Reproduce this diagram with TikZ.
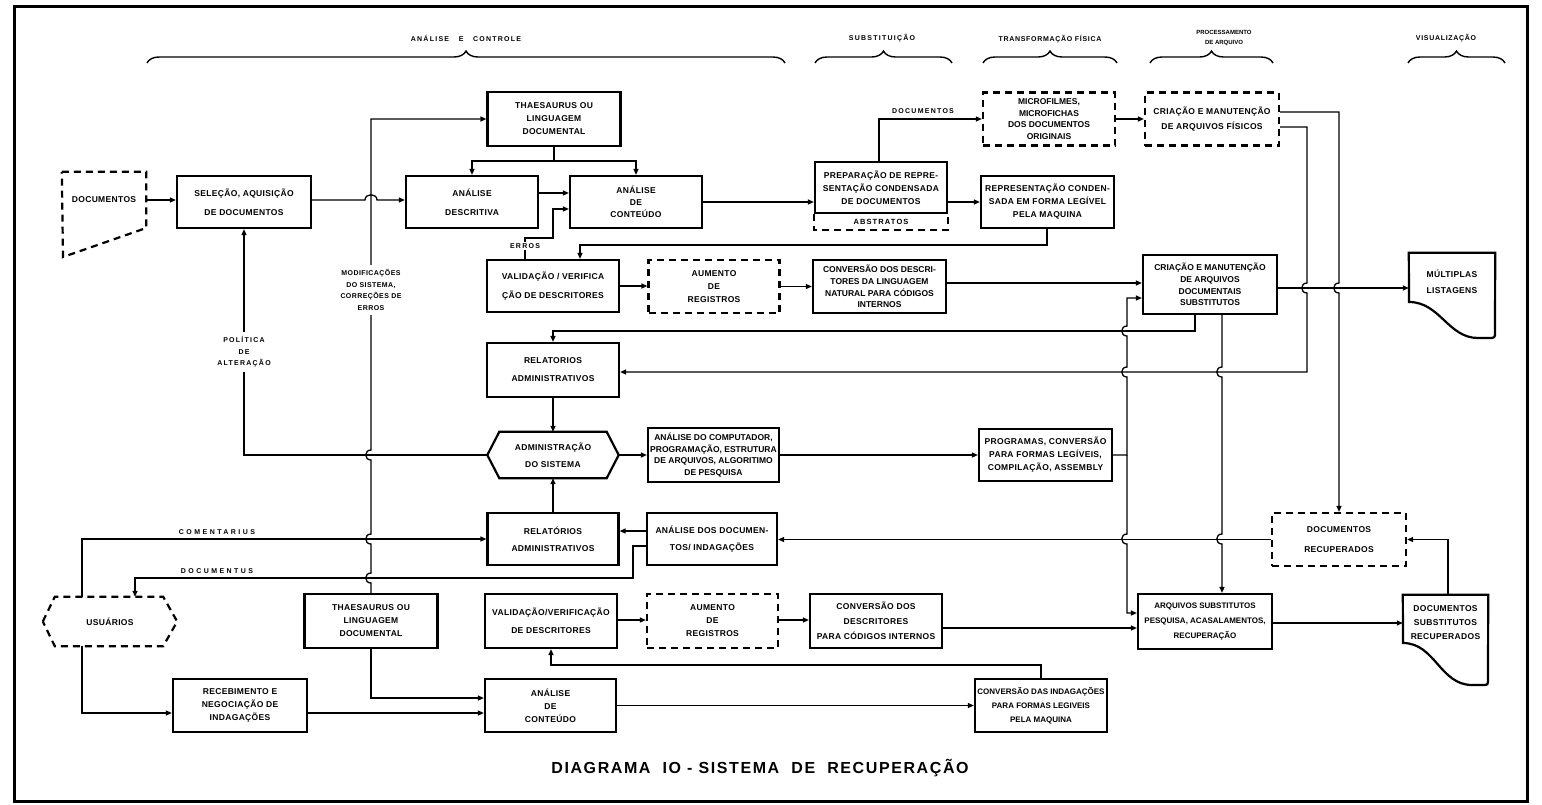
\documentclass[tikz,border=0pt]{standalone}
\usepackage{fontspec}
\setmainfont{Liberation Sans}
\usetikzlibrary{arrows.meta,decorations.pathreplacing}

% line hops on vertical connectors (bump to the left)
\newcommand\vhopup[2]{-- (#1,#2+5) .. controls (#1-7,#2+5) and (#1-7,#2-5) .. (#1,#2-5)}
\newcommand\vhopdn[2]{-- (#1,#2-5) .. controls (#1-7,#2-5) and (#1-7,#2+5) .. (#1,#2+5)}

\begin{document}
\begin{tikzpicture}[x=1pt,y=-1pt,
  boxfont/.style={font=\bfseries\fontsize{8.5}{13}\selectfont\addfontfeatures{LetterSpace=4}},
  box/.style={draw, line width=2.2pt, minimum width=132pt, minimum height=53pt,
    inner sep=0pt, align=center, boxfont},
  tight/.style={font=\bfseries\fontsize{8.5}{11.7}\selectfont},
  narrow/.style={font=\bfseries\fontsize{8}{13}\selectfont},
  dbox/.style={box, dash pattern=on 7pt off 5pt},
  dsh/.style={line width=2.2pt, dash pattern=on 7pt off 5pt},
  solidline/.style={line width=2.2pt},
  txt/.style={inner sep=0pt, align=center, boxfont},
  lab/.style={inner sep=1pt, align=center,
    font=\bfseries\fontsize{7}{11.5}\selectfont\addfontfeatures{LetterSpace=18}},
  widelab/.style={lab, font=\bfseries\fontsize{7}{11.5}\selectfont\addfontfeatures{LetterSpace=35}},
  conn/.style={line width=1.3pt},
  arr/.style={conn, -{Triangle[length=6pt,width=5pt]}},
  brc/.style={line width=1.4pt, decorate, decoration={brace, amplitude=12pt}},
]
\useasboundingbox (0,0) rectangle (1542,804);
\fill[white] (0,0) rectangle (1542,804);
\draw[line width=3pt] (14,6) rectangle (1527,801);

% ---------- phase braces ----------
\draw[brc] (147,63) -- (785,63);
\draw[brc] (815,63) -- (952,63);
\draw[brc] (983,63) -- (1117,63);
\draw[brc] (1150,63) -- (1273,63);
\draw[brc] (1408,63) -- (1505,63);
\node[lab] (phA) at (466,38) {ANÁLISE\ \ \ E\ \ \ CONTROLE};
\node[lab] (phB) at (882,38) {SUBSTITUIÇÃO};
\node[lab, font=\bfseries\fontsize{7}{11.5}\selectfont\addfontfeatures{LetterSpace=10}] (phC) at (1050,39) {TRANSFORMAÇÃO FÍSICA};
\node[lab, font=\bfseries\fontsize{6}{10}\selectfont] (phD) at (1224,38) {PROCESSAMENTO\\DE ARQUIVO};
\node[lab, font=\bfseries\fontsize{7}{11.5}\selectfont\addfontfeatures{LetterSpace=10}] (phE) at (1446,38) {VISUALIZAÇÃO};

% ---------- nodes ----------
\node[txt, minimum width=84pt, minimum height=56pt] (docA) at (104,200) {DOCUMENTOS};
\draw[dsh] (docA.north west) -- (docA.north east) -- (docA.east |- 0,228) -- (63,257) -- cycle;

\node[box, minimum width=134pt, minimum height=52pt] (sel) at (244,202) {SELEÇÃO, AQUISIÇÃO\\[6pt]DE DOCUMENTOS};
\node[box, minimum width=133pt, minimum height=54pt] (thesA) at (554,119) {THAESAURUS OU\\LINGUAGEM\\DOCUMENTAL};
\node[box, minimum height=52pt] (descr) at (472,202) {ANÁLISE\\[6pt]DESCRITIVA};
\node[box, minimum height=52pt] (contA) at (636,202) {ANÁLISE\\[-1pt]DE\\[-1pt]CONTEÚDO};
\node[box, minimum height=51pt] (prep) at (881,187.5) {PREPARAÇÃO DE REPRE-\\SENTAÇÃO CONDENSADA\\DE DOCUMENTOS};
\draw[dsh] (prep.south west) -- ++(0,16) -| (prep.south east);
\node[txt, font=\bfseries\fontsize{7.5}{9}\selectfont\addfontfeatures{LetterSpace=15}] (abst) at (881,221.5) {ABSTRATOS};
\node[dbox, tight] (micro) at (1049,119) {MICROFILMES,\\MICROFICHAS\\DOS DOCUMENTOS\\ORIGINAIS};
\node[box, minimum width=133pt, minimum height=52pt] (repr) at (1047.5,202) {REPRESENTAÇÃO CONDEN-\\SADA EM FORMA LEGÍVEL\\PELA MAQUINA};
\node[dbox, minimum width=134pt] (criaF) at (1212,119) {CRIAÇÃO E MANUTENÇÃO\\[2pt]DE ARQUIVOS FÍSICOS};

\node[box, minimum height=52pt] (valA) at (553,286) {VALIDAÇÃO / VERIFICA\\[6pt]ÇÃO DE DESCRITORES};
\node[dbox, minimum width=131pt] (aumA) at (714,286.5) {AUMENTO\\DE\\REGISTROS};
\node[box, tight, minimum width=133pt] (convA) at (879.5,286.5) {CONVERSÃO DOS DESCRI-\\TORES DA LINGUAGEM\\NATURAL PARA CÓDIGOS\\INTERNOS};
\node[box, tight, minimum width=134pt, minimum height=59pt] (criaS) at (1210,284.5) {CRIAÇÃO E MANUTENÇÃO\\DE ARQUIVOS\\DOCUMENTAIS\\SUBSTITUTOS};
\node[txt, minimum width=86pt, minimum height=58pt] (mult) at (1452,282) {MÚLTIPLAS\\[3pt]LISTAGENS};
\draw[solidline] (mult.north west) -- (mult.north east) -- (1495,332) .. controls (1495,338) .. (1488,338)
  -- (1478,338) .. controls (1448,338) and (1440,302) .. (1409,302) -- cycle;

\node[box, minimum height=54pt] (relA) at (553,370) {RELATORIOS\\[5pt]ADMINISTRATIVOS};
\node[txt, minimum width=131pt, minimum height=46pt] (admin) at (553,455) {ADMINISTRAÇÃO\\[4pt]DO SISTEMA};
\draw[solidline] (admin.west) -- ([xshift=12pt]admin.north west) -- ([xshift=-12pt]admin.north east)
  -- (admin.east) -- ([xshift=-12pt]admin.south east) -- ([xshift=12pt]admin.south west) -- cycle;
\node[box, tight, minimum width=131pt, minimum height=54pt] (compA) at (713.5,455) {ANÁLISE DO COMPUTADOR,\\PROGRAMAÇÃO, ESTRUTURA\\DE ARQUIVOS, ALGORITIMO\\DE PESQUISA};
\node[box, minimum width=133pt, minimum height=52pt] (prog) at (1045.5,455) {PROGRAMAS, CONVERSÃO\\PARA FORMAS LEGÍVEIS,\\COMPILAÇÃO, ASSEMBLY};

\node[box, minimum width=131pt, minimum height=52pt] (relB) at (553,539) {RELATÓRIOS\\[4pt]ADMINISTRATIVOS};
\node[box, minimum width=130pt, minimum height=52pt] (anDoc) at (712,539) {ANÁLISE DOS DOCUMEN-\\[4pt]TOS/ INDAGAÇÕES};
\node[dbox, minimum width=134pt] (docRec) at (1339,539.5) {DOCUMENTOS\\[7pt]RECUPERADOS};

\node[txt, minimum width=134pt, minimum height=49pt] (usu) at (110,621.5) {USUÁRIOS};
\draw[dsh] (usu.west) -- ([xshift=12pt]usu.north west) -- ([xshift=-14pt]usu.north east)
  -- (usu.east) -- ([xshift=-14pt]usu.south east) -- ([xshift=12pt]usu.south west) -- cycle;
\node[box, minimum width=133pt, minimum height=54pt] (thesB) at (371,621) {THAESAURUS OU\\LINGUAGEM\\DOCUMENTAL};
\node[box, minimum height=54pt] (valB) at (551,621) {VALIDAÇÃO/VERIFICAÇÃO\\[5pt]DE DESCRITORES};
\node[dbox, minimum width=131pt, minimum height=54pt] (aumB) at (712.5,621) {AUMENTO\\DE\\REGISTROS};
\node[box, minimum height=54pt] (convB) at (876,621) {CONVERSÃO DOS\\[2pt]DESCRITORES\\[2pt]PARA CÓDIGOS INTERNOS};
\node[box, narrow, minimum width=134pt, minimum height=55pt] (arqS) at (1205,621.5) {ARQUIVOS SUBSTITUTOS\\[2pt]PESQUISA, ACASALAMENTOS,\\[2pt]RECUPERAÇÃO};
\node[txt, minimum width=85pt, minimum height=56pt] (docSR) at (1445.5,623) {DOCUMENTOS\\[1pt]SUBSTITUTOS\\[1pt]RECUPERADOS};
\draw[solidline] (docSR.north west) -- (docSR.north east) -- (1488,679) .. controls (1488,685) .. (1482,685)
  -- (1472,685) .. controls (1440,685) and (1435,643) .. (1403,643) -- cycle;

\node[box, minimum width=134pt] (receb) at (240,705.5) {RECEBIMENTO E\\NEGOCIAÇÃO DE\\INDAGAÇÕES};
\node[box, minimum width=131pt] (contB) at (550.5,705.5) {ANÁLISE\\DE\\CONTEÚDO};
\node[box, narrow] (convI) at (1041,705.5) {CONVERSÃO DAS INDAGAÇÕES\\[1pt]PARA FORMAS LEGIVEIS\\[1pt]PELA MAQUINA};

% ---------- connectors: upper chain ----------
\draw[arr] (docA.east) -- (sel.west |- docA.east);
\draw[arr] (sel.east |- 0,200) -- (365,200) .. controls (365,193) and (377,193) .. (377,200) -- (descr.west |- 0,200);
\draw[arr] (thesA.south) -- ++(0,14) -| (descr.north);
\draw[arr] (thesA.south) -- ++(0,14) -| (contA.north);
\draw[arr] (descr.east |- 0,193) -- (contA.west |- 0,193);
\draw[arr] (valA.north -| 525,0) -- (525,238) -| (553,209) -- (contA.west |- 0,209);
\draw[arr] (contA.east) -- (prep.west |- contA.east);
\draw[arr] (prep.north -| 879,0) |- (micro.west);
\draw[arr] (micro.east) -- (criaF.west);
\draw[arr] (prep.east |- repr.west) -- (repr.west);
\draw[arr] (repr.south -| 1047,0) |- (580,245) -- (valA.north -| 580,0);

\draw[arr] (valA.east) -- (aumA.west |- valA.east);
\draw[arr] (aumA.east) -- (convA.west |- aumA.east);
\draw[arr] (convA.east |- 0,283) -- (criaS.west |- 0,283);

% program line feeding both substitute files
\coordinate (jP) at (1127,455);
\draw[arr] (prog.east) -- (jP) \vhopup{1127}{372} \vhopup{1127}{331} -- (1127,298) -- (criaS.west |- 0,298);
\draw[arr] (jP) \vhopdn{1127}{539} -- (1127,613) -- (arqS.west |- 0,613);

\draw[arr] (criaS.south -| 1195,0) |- (553,331) -- (relA.north);
\draw[arr] (criaF.east |- 0,127) -- (1307,127) \vhopdn{1307}{288} -- (1307,372) -- (relA.east |- 0,372);
\draw[arr] (criaF.east |- 0,112) -- (1339,112) \vhopdn{1339}{288} -- (docRec.north);
\draw[arr] (criaS.east |- 0,288) -- (mult.west |- 0,288);
\draw[arr] (criaS.south -| 1222,0) \vhopdn{1222}{372} \vhopdn{1222}{539} -- (arqS.north -| 1222,0);

% administration
\draw[arr] (relA.south) -- (admin.north);
\draw[arr] (relB.north) -- (admin.south);
\draw[arr] (admin.west) -| (sel.south);
\draw[arr] (admin.east) -- (compA.west);
\draw[arr] (compA.east) -- (prog.west);

% system modifications back to the thesaurus
\draw[arr] (thesB.north) \vhopup{371}{578} \vhopup{371}{539} \vhopup{371}{455} -- (371,119) -- (thesA.west);
\draw[arr] (thesB.south) |- (contB.west |- 0,698);

% users
\draw[arr] (usu.north -| 82,0) |- (relB.west);
\draw[arr] (anDoc.west |- 0,546) -- (633,546) |- (135,578) -- (usu.north -| 135,0);
\draw[arr] (anDoc.west |- 0,531) -- (relB.east |- 0,531);
\draw[arr] (docRec.west) -- (anDoc.east |- docRec.west);
\draw[arr] (docSR.north -| 1448,0) |- (docRec.east);
\draw[arr] (arqS.east |- 0,623) -- (docSR.west |- 0,623);
\draw[arr] (usu.south -| 82,0) |- (receb.west |- 0,713);
\draw[arr] (receb.east |- 0,713) -- (contB.west |- 0,713);

% lower chain
\draw[arr] (valB.east |- 0,620) -- (aumB.west |- 0,620);
\draw[arr] (aumB.east |- 0,620) -- (convB.west |- 0,620);
\draw[arr] (convB.east |- 0,628) -- (arqS.west |- 0,628);
\draw[arr] (contB.east) -- (convI.west);
\draw[arr] (convI.north) |- (valB.south |- 0,665) -- (valB.south);

% ---------- connector labels ----------
\node[lab, fill=white, inner sep=2pt] (lErr) at (525,246) {ERROS};
\node[lab] (lDoc) at (923,111) {DOCUMENTOS};
\node[lab, fill=white, inner sep=5pt] (lPol) at (244,352) {POLÍTICA\\DE\\ALTERAÇÃO};
\node[lab, fill=white, inner sep=5pt, font=\bfseries\fontsize{7}{11.5}\selectfont\addfontfeatures{LetterSpace=6}] (lMod) at (371,290) {MODIFICAÇÕES\\DO SISTEMA,\\CORREÇÕES DE\\ERROS};
\node[widelab] (lCom) at (217,532) {COMENTARIUS};
\node[widelab] (lDus) at (217,571) {DOCUMENTUS};

% ---------- title ----------
\node[font=\bfseries\fontsize{16}{16}\selectfont\addfontfeatures{LetterSpace=10}] (title) at (760,768)
  {DIAGRAMA\ \ IO - SISTEMA\ \ DE\ \ RECUPERAÇÃO};
\end{tikzpicture}
\end{document}
